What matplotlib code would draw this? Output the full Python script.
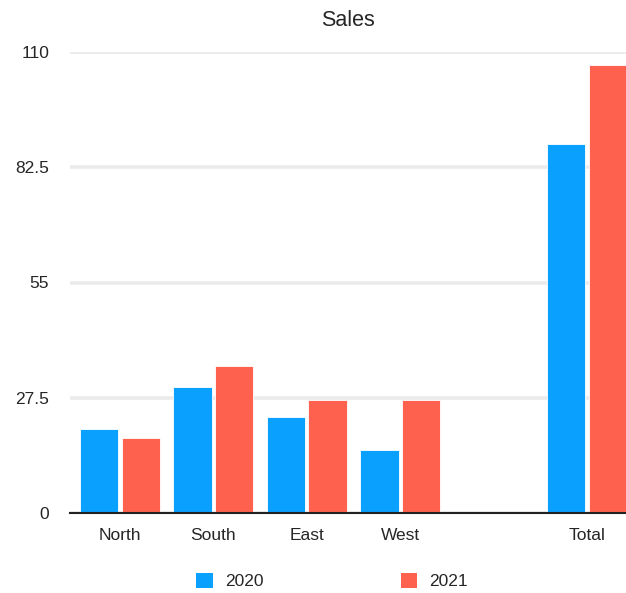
import matplotlib
matplotlib.use("Agg")
import matplotlib.pyplot as plt
import numpy as np
from matplotlib.patches import Patch

plt.rcParams['font.family'] = ['Liberation Sans', 'DejaVu Sans']

title = "Sales"
categories = ["North", "South", "East", "West", "", "Total"]
series_names = ["2020", "2021"]
sales_2020 = [20, 30, 23, 15, None, 88]
sales_2021 = [18, 35, 27, 27, None, 107]
y_ticks = [0, 27.5, 55, 82.5, 110]
y_tick_labels = ["0", "27.5", "55", "82.5", "110"]

colors = ["#0aa0fd", "#fe614e"]
text_color = "#262626"

fig = plt.figure(figsize=(6.26, 5.93), dpi=100)
ax = fig.add_axes([70 / 626, 80 / 593, 556 / 626, 461 / 593])

x = np.arange(len(categories))
bar_w = 0.41
offset = 0.222
for vals, off, col, name in zip([sales_2020, sales_2021], [-offset, offset], colors, series_names):
    xs = [xi + off for xi, v in zip(x, vals) if v is not None]
    hs = [v for v in vals if v is not None]
    ax.bar(xs, hs, width=bar_w, color=col, edgecolor="white", linewidth=0.6, zorder=3, label=name)

ax.set_xlim(-0.535, 5.418)
ax.set_ylim(0, 110)
ax.set_yticks(y_ticks)
ax.set_yticklabels(y_tick_labels)
ax.set_xticks(x)
ax.set_xticklabels(categories)

ax.grid(axis="y", color="#ebebeb", linewidth=2.6, zorder=0)
ax.grid(axis="x", visible=False)
for side in ["top", "right", "left"]:
    ax.spines[side].set_visible(False)
ax.spines["bottom"].set_color("#222222")
ax.spines["bottom"].set_linewidth(1.5)
ax.spines["bottom"].set_zorder(4)

ax.tick_params(axis="both", length=0, labelsize=12.5, labelcolor=text_color)
ax.tick_params(axis="y", pad=15)
ax.tick_params(axis="x", pad=11)

ax.set_title(title, fontsize=15.5, color=text_color, pad=18.5)

handles = [Patch(facecolor=c, edgecolor="none") for c in colors]
fig.legend(handles, series_names, loc="center", bbox_to_anchor=(332 / 626, 1 - 581 / 593),
           ncol=2, frameon=False, fontsize=12.5, labelcolor=text_color,
           handlelength=0.95, handleheight=0.95, handletextpad=0.7, columnspacing=7.9)

fig.savefig("out.png", dpi=100, facecolor="white")
